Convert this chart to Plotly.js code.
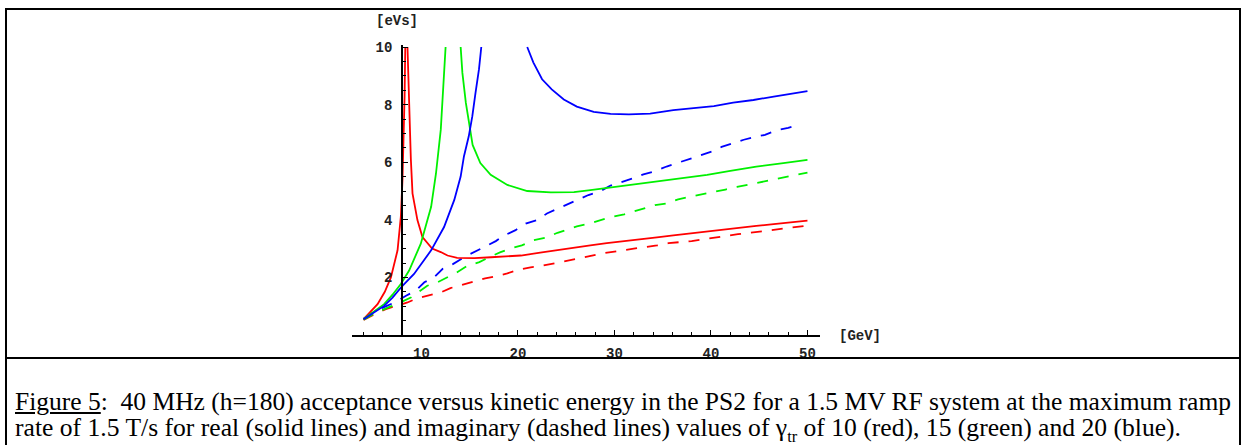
<!DOCTYPE html>
<html>
<head>
<meta charset="utf-8">
<script src="https://cdn.plot.ly/plotly-3.0.1.min.js"></script>
<style>
  html, body { margin: 0; padding: 0; background: #fff; }
  #wrap { position: relative; width: 1244px; height: 445px; overflow: hidden; }
  #chart { position: absolute; left: 0; top: 0; width: 1244px; height: 445px; }
  #frame { position: absolute; left: 5px; top: 8px; width: 1232px; height: 460px;
           border: 2px solid #000; box-sizing: content-box; pointer-events: none; }
  #sep { position: absolute; left: 5px; top: 357px; width: 1235px; height: 2px; background: #000; }
  .cap { position: absolute; left: 15px; white-space: nowrap; font-family: "Liberation Serif", "Times New Roman", serif;
         font-size: 25px; line-height: 24px; color: #000; transform-origin: 0 0; }
  .cap u { text-decoration-thickness: 1.5px; text-underline-offset: 2px; }
</style>
</head>
<body>
<div id="wrap">
  <div id="chart"></div>
  <div id="frame"></div>
  <div id="sep"></div>
  <div class="cap" id="cap1" style="top:390px;"><u>Figure 5</u>:&nbsp; 40 MHz (h=180) acceptance versus kinetic energy in the PS2 for a 1.5 MV RF system at the maximum ramp</div>
  <div class="cap" id="cap2" style="top:416px;">rate of 1.5 T/s for real (solid lines) and imaginary (dashed lines) values of γ<sub style="font-size:16px;line-height:0;">tr</sub> of 10 (red), 15 (green) and 20 (blue).</div>
</div>
<script>
// ---- data (kinetic energy [GeV], acceptance [eVs]) ----
// gamma_tr = 10, real: below and above transition
const red_real_lo_x = [4.0, 4.5, 5.45, 6.2, 6.83, 7.52, 7.86, 8.03, 8.15, 8.25, 8.32];
const red_real_lo_y = [0.55, 0.72, 1.07, 1.5, 2.0, 2.94, 4.1, 5.38, 6.8, 8.3, 10.0];
const red_real_hi_x = [8.55, 8.62, 8.72, 8.9, 9.07, 9.58, 10.1, 11.1, 12.0, 12.7, 13.7, 15.5, 17.2, 18.8, 20.3, 22.3, 24.0, 25.8, 27.5, 29.2, 30.9, 32.7, 34.4, 36.1, 37.8, 39.6, 41.3, 43.0, 44.7, 46.5, 48.2, 50.0];
const red_real_hi_y = [10.0, 9.0, 8.08, 6.1, 4.92, 3.99, 3.4, 3.0, 2.88, 2.76, 2.68, 2.67, 2.70, 2.72, 2.76, 2.86, 2.95, 3.03, 3.11, 3.19, 3.25, 3.31, 3.39, 3.46, 3.53, 3.60, 3.67, 3.73, 3.79, 3.85, 3.91, 3.97];
// gamma_tr = 10, imaginary
const red_imag_x = [4.0, 5.0, 6.3, 7.35, 8.55, 9.58, 10.6, 12.0, 13.0, 14.2, 15.4, 16.6, 17.7, 18.9, 20.1, 21.3, 22.3, 23.5, 24.9, 26.1, 27.3, 28.5, 29.6, 30.8, 32.0, 34.4, 35.6, 38.0, 40.3, 42.8, 45.3, 47.7, 50.0];
const red_imag_y = [0.52, 0.70, 0.90, 1.01, 1.13, 1.28, 1.36, 1.48, 1.63, 1.75, 1.86, 1.97, 2.04, 2.14, 2.27, 2.35, 2.39, 2.47, 2.55, 2.65, 2.73, 2.82, 2.88, 2.95, 3.00, 3.11, 3.19, 3.26, 3.38, 3.50, 3.60, 3.70, 3.80];
// gamma_tr = 15, real
const green_real_lo_x = [4.0, 5.0, 6.13, 7.0, 7.86, 8.72, 9.93, 11.0, 11.5, 12.0, 12.27, 12.5];
const green_real_lo_y = [0.56, 0.80, 1.07, 1.40, 1.77, 2.24, 3.17, 4.45, 5.6, 7.13, 8.76, 10.0];
const green_real_hi_x = [14.06, 14.24, 14.6, 14.93, 15.3, 16.1, 17.17, 18.9, 20.96, 23.4, 25.8, 27.5, 29.9, 32.3, 34.4, 36.8, 39.6, 42.0, 44.7, 47.5, 50.0];
const green_real_hi_y = [10.0, 9.1, 8.06, 7.37, 6.6, 5.97, 5.56, 5.21, 5.0, 4.95, 4.96, 5.03, 5.13, 5.23, 5.33, 5.44, 5.56, 5.70, 5.85, 5.97, 6.08];
// gamma_tr = 15, imaginary
const green_imag_x = [4.0, 5.0, 6.5, 7.5, 8.9, 9.4, 10.6, 11.65, 12.7, 13.7, 14.8, 16.0, 17.0, 18.2, 19.2, 20.4, 21.6, 22.9, 24.1, 25.1, 26.1, 27.3, 28.5, 29.7, 31.0, 32.2, 33.2, 34.2, 35.4, 36.6, 37.8, 39.1, 40.3, 41.5, 42.7, 43.9, 45.1, 46.3, 47.3, 48.5, 50.0];
const green_imag_y = [0.53, 0.72, 0.95, 1.08, 1.30, 1.42, 1.71, 1.83, 2.02, 2.18, 2.41, 2.53, 2.70, 2.88, 3.00, 3.11, 3.29, 3.38, 3.55, 3.66, 3.77, 3.86, 3.97, 4.10, 4.19, 4.31, 4.43, 4.51, 4.57, 4.71, 4.80, 4.88, 4.97, 5.05, 5.14, 5.22, 5.30, 5.38, 5.46, 5.54, 5.64];
// gamma_tr = 20, real
const blue_real_lo_x = [4.0, 5.0, 6.13, 7.0, 8.03, 9.23, 11.0, 12.34, 13.4, 14.06, 14.4, 14.9, 15.27, 15.6, 15.96, 16.2];
const blue_real_lo_y = [0.55, 0.78, 1.01, 1.30, 1.71, 2.12, 2.94, 3.75, 4.69, 5.5, 6.2, 6.9, 7.6, 8.41, 9.23, 10.0];
const blue_real_hi_x = [20.96, 21.6, 22.5, 23.5, 24.75, 26.1, 27.85, 29.6, 31.5, 33.7, 36.1, 38.2, 40.3, 42.3, 44.4, 46.5, 48.5, 50.0];
const blue_real_hi_y = [10.0, 9.46, 8.88, 8.53, 8.18, 7.93, 7.75, 7.68, 7.66, 7.69, 7.81, 7.88, 7.95, 8.07, 8.16, 8.28, 8.38, 8.47];
// gamma_tr = 20, imaginary
const blue_imag_x = [4.0, 5.0, 6.0, 7.2, 8.4, 9.4, 10.3, 11.3, 12.2, 13.3, 14.4, 15.5, 16.5, 17.7, 18.5, 19.75, 20.8, 22.0, 23.0, 24.1, 25.1, 26.3, 27.3, 28.5, 29.6, 30.8, 32.0, 33.0, 34.1, 35.4, 36.5, 37.7, 38.9, 40.1, 41.1, 42.3, 43.4, 44.6, 45.6, 46.8, 48.0, 49.2];
const blue_imag_y = [0.56, 0.78, 0.95, 1.13, 1.36, 1.54, 1.83, 2.00, 2.30, 2.47, 2.70, 2.88, 3.05, 3.26, 3.44, 3.64, 3.87, 3.99, 4.22, 4.39, 4.55, 4.71, 4.86, 4.99, 5.19, 5.31, 5.45, 5.58, 5.68, 5.85, 5.97, 6.11, 6.22, 6.37, 6.53, 6.67, 6.78, 6.88, 6.95, 7.11, 7.19, 7.31];

const yTickVals = [2, 4, 6, 8, 10];
const yTickText = ['2', '4', '6', '8', '10'];
const xTickVals = [10, 20, 30, 40, 50];
const xTickText = ['10', '20', '30', '40', '50'];
const xUnit = '[GeV]';
const yUnit = '[eVs]';

const RED = '#ff0000', GREEN = '#00f000', BLUE = '#0000ff';
const DASH = '11px,10px';
function tr(x, y, color, dash) {
  return { x: x, y: y, type: 'scatter', mode: 'lines', hoverinfo: 'skip',
           line: { color: color, width: 1.8, dash: dash || 'solid' }, cliponaxis: true };
}
const traces = [
  tr(red_imag_x, red_imag_y, RED, DASH),
  tr(green_imag_x, green_imag_y, GREEN, DASH),
  tr(blue_imag_x, blue_imag_y, BLUE, DASH),
  tr(red_real_lo_x, red_real_lo_y, RED),
  tr(red_real_hi_x, red_real_hi_y, RED),
  tr(green_real_lo_x, green_real_lo_y, GREEN),
  tr(green_real_hi_x, green_real_hi_y, GREEN),
  tr(blue_real_lo_x, blue_real_lo_y, BLUE),
  tr(blue_real_hi_x, blue_real_hi_y, BLUE)
];

const xMin = 2.8, xMax = 51.3, yAxisAt = 8;
const tickFont = { family: 'Liberation Mono, DejaVu Sans Mono, monospace', size: 14, color: '#222', weight: 'bold' };

const layout = {
  width: 1244, height: 445, autosize: false,
  paper_bgcolor: 'rgba(0,0,0,0)', plot_bgcolor: 'rgba(0,0,0,0)',
  margin: { l: 352, r: 424, t: 45, b: 110, pad: 0 },
  showlegend: false,
  xaxis: {
    range: [xMin, xMax], showgrid: false, zeroline: false,
    showline: true, linecolor: '#000', linewidth: 2,
    tickmode: 'array', tickvals: xTickVals, ticktext: xTickText,
    ticks: 'inside', ticklen: 5, tickwidth: 1, tickcolor: '#000',
    minor: { tickmode: 'linear', tick0: 0, dtick: 2, ticks: 'inside', ticklen: 3, tickwidth: 1, tickcolor: '#000' },
    tickfont: tickFont, ticklabelstandoff: 4
  },
  yaxis: {
    range: [0, 10.07], showgrid: false, zeroline: false,
    anchor: 'free', position: (yAxisAt - xMin) / (xMax - xMin),
    showline: true, linecolor: '#000', linewidth: 2,
    tickmode: 'array', tickvals: yTickVals, ticktext: yTickText,
    ticks: 'inside', ticklen: 5, tickwidth: 1, tickcolor: '#000',
    minor: { tickmode: 'linear', tick0: 0, dtick: 0.5, ticks: 'inside', ticklen: 3, tickwidth: 1, tickcolor: '#000' },
    tickfont: tickFont, ticklabelstandoff: 6
  },
  annotations: [
    { text: xUnit, xref: 'paper', yref: 'y', x: 1, y: 0, xanchor: 'left', yanchor: 'middle',
      xshift: 17, yshift: -1, showarrow: false, font: tickFont },
    { text: yUnit, xref: 'x', yref: 'paper', x: yAxisAt, y: 1, xanchor: 'center', yanchor: 'bottom',
      xshift: -5, yshift: 14, showarrow: false, font: tickFont }
  ]
};

Plotly.newPlot('chart', traces, layout, { displayModeBar: false, staticPlot: true }).then(function () {
  const fits = [['cap1', 1216], ['cap2', 1166]];
  fits.forEach(function (f) {
    const el = document.getElementById(f[0]);
    const w = el.getBoundingClientRect().width;
    if (w > 0) el.style.transform = 'scaleX(' + (f[1] / w) + ')';
  });
});
</script>
</body>
</html>
